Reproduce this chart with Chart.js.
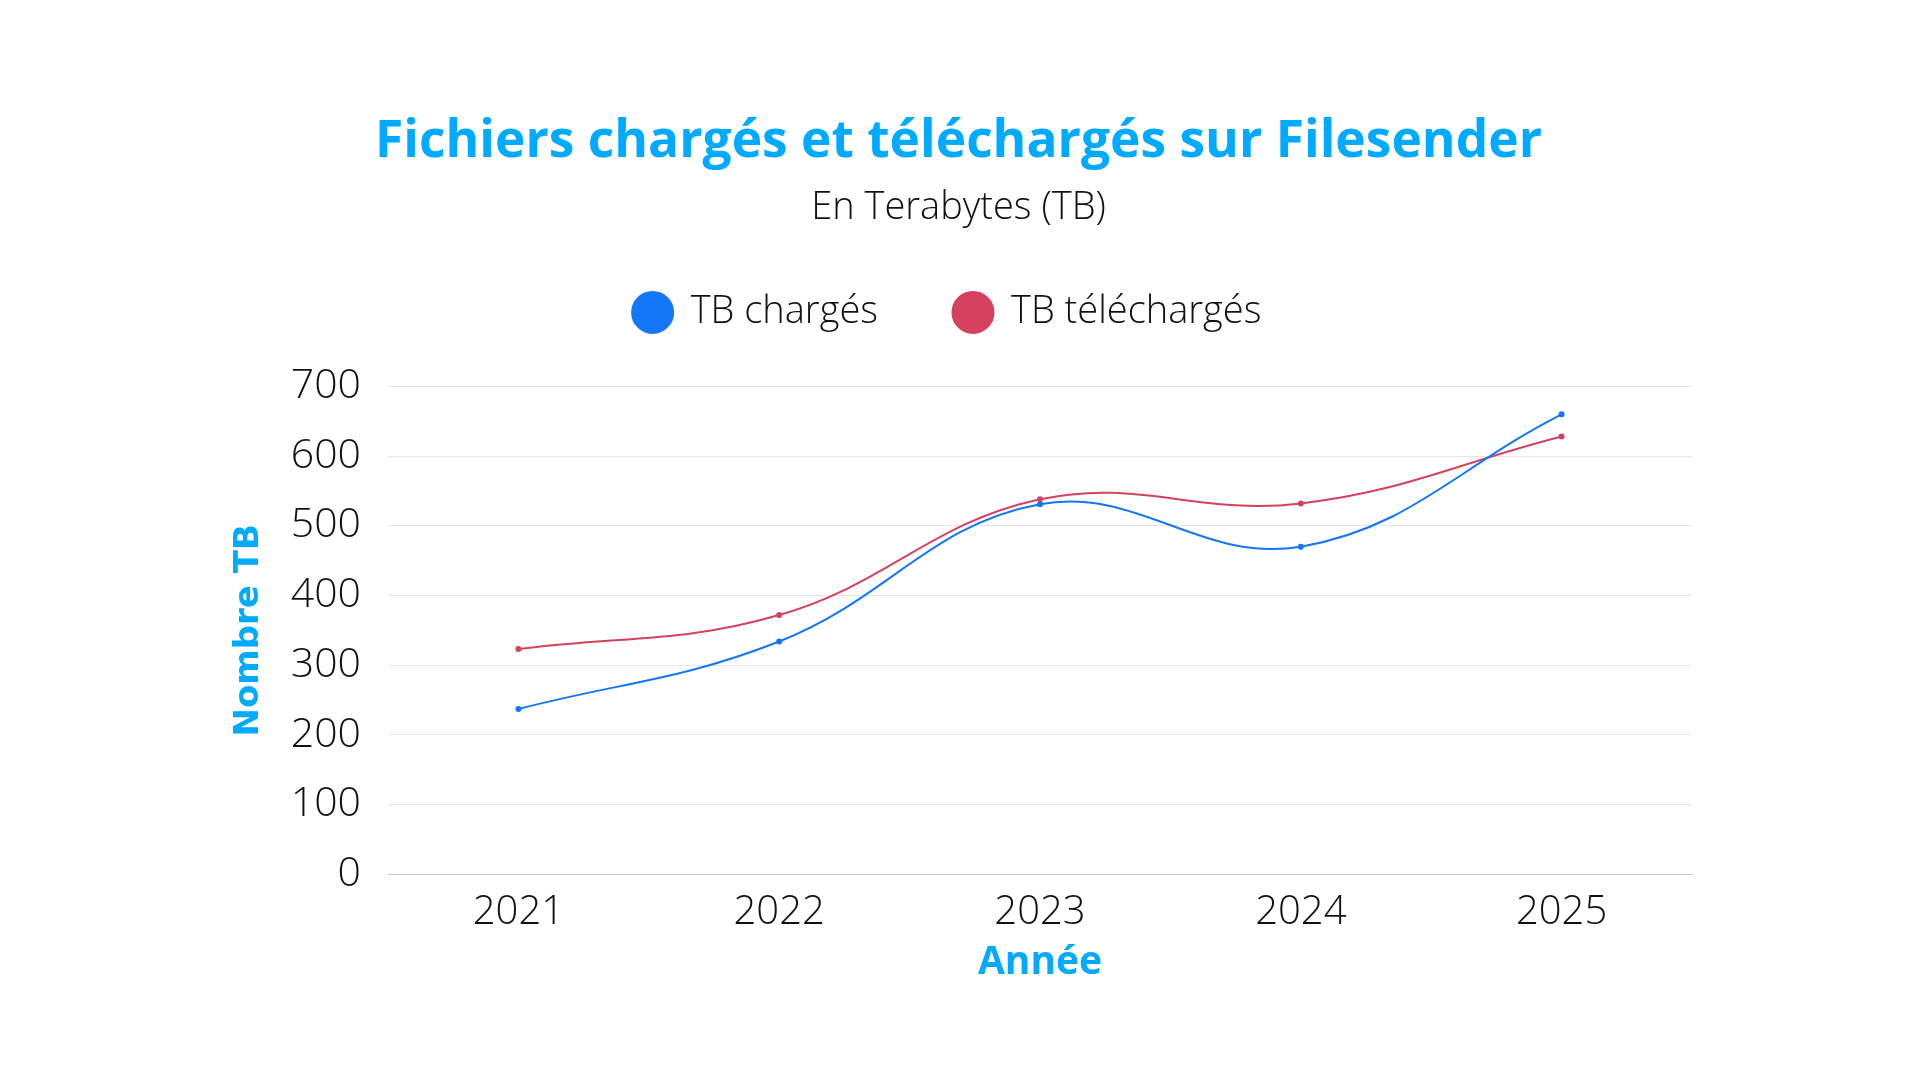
<!DOCTYPE html>
<html>
<head>
<meta charset="utf-8">
<script src="https://cdn.jsdelivr.net/npm/chart.js@4.4.1/dist/chart.umd.min.js"></script>
<style>
  html, body { margin: 0; padding: 0; background: #fff; }
  #wrap { width: 1920px; height: 1080px; }
</style>
</head>
<body>
<div id="wrap"><canvas id="chart"></canvas></div>
<script>
const years = ["2021", "2022", "2023", "2024", "2025"];
const tbCharges = [237, 334, 531, 470, 660];
const tbTelecharges = [323, 372, 538, 532, 628];
const yTicks = [0, 100, 200, 300, 400, 500, 600, 700];

const accent = "#00aaff";
const textFont = "'Open Sans', sans-serif";

// extra room under the legend, and nudge it a bit to the left
const legendSpace = {
    id: "legendSpace",
    beforeInit(chart) {
        const fit = chart.legend.fit;
        chart.legend.fit = function () {
            fit.bind(chart.legend)();
            this.height += 45;
        };
    },
    afterLayout(chart) {
        chart.legend.left -= 11;
        chart.legend.right -= 11;
    }
};

const ctx = document.getElementById("chart");

ctx.chart = new Chart(ctx, {
    type: "line",
    data: {
        labels: years,
        datasets: [{
            label: "TB chargés",
            data: tbCharges,
            borderColor: "#1477f8",
            backgroundColor: "#1477f8",
            borderWidth: 2,
            pointRadius: 2,
            tension: 0.4
        }, {
            label: "TB téléchargés",
            data: tbTelecharges,
            borderColor: "#d6415f",
            backgroundColor: "#d6415f",
            borderWidth: 2,
            pointRadius: 2,
            tension: 0.4
        }]
    },
    plugins: [legendSpace],
    options: {
        responsive: true,
        maintainAspectRatio: false,
        animation: false,
        layout: {
            padding: { top: 111, left: 225, right: 228, bottom: 90 }
        },
        plugins: {
            title: {
                display: true,
                text: "Fichiers chargés et téléchargés sur Filesender",
                color: accent,
                font: { family: textFont, size: 51.5, weight: "bold" },
                padding: { top: 0, bottom: 13 }
            },
            subtitle: {
                display: true,
                text: "En Terabytes (TB)",
                color: "#111",
                font: { family: textFont, size: 38, weight: "300" },
                padding: { top: 0, bottom: -14 }
            },
            legend: {
                labels: {
                    usePointStyle: true,
                    pointStyle: "circle",
                    boxWidth: 38,
                    boxHeight: 29,
                    padding: 76,
                    color: "#111",
                    font: { family: textFont, size: 38, weight: "300" }
                }
            },
            tooltip: { enabled: false }
        },
        scales: {
            x: {
                offset: true,
                grid: { display: false },
                border: { color: "#cccccc" },
                ticks: {
                    color: "#111",
                    padding: 6,
                    font: { family: textFont, size: 40, weight: "300" }
                },
                title: {
                    display: true,
                    text: "Année",
                    color: accent,
                    font: { family: textFont, size: 39, weight: "bold" },
                    padding: { top: -3 }
                }
            },
            y: {
                min: 0,
                max: 700,
                afterBuildTicks: axis => {
                    axis.ticks = yTicks.map(v => ({ value: v }));
                },
                grid: { color: "#e6e6e6", drawTicks: false },
                border: { display: false },
                ticks: {
                    color: "#111",
                    padding: 27,
                    font: { family: textFont, size: 41, weight: "300" }
                },
                title: {
                    display: true,
                    text: "Nombre TB",
                    color: accent,
                    font: { family: "'DejaVu Sans', sans-serif", size: 34, weight: "bold" },
                    padding: { bottom: -6 }
                }
            }
        }
    }
});
</script>
</body>
</html>
